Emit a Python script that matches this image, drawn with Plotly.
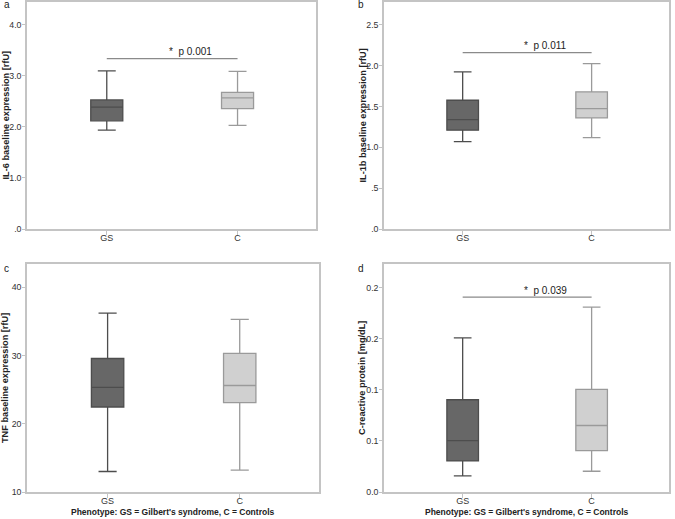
import plotly.graph_objects as go

groups = ["GS", "C"]
# panel a: IL-6
a_low = [1.94, 2.03]; a_q1 = [2.12, 2.36]; a_med = [2.39, 2.57]; a_q3 = [2.53, 2.68]; a_up = [3.10, 3.09]
# panel b: IL-1b
b_low = [1.07, 1.12]; b_q1 = [1.21, 1.36]; b_med = [1.34, 1.475]; b_q3 = [1.577, 1.68]; b_up = [1.924, 2.026]
# panel c: TNF
c_low = [13.0, 13.2]; c_q1 = [22.45, 23.1]; c_med = [25.34, 25.6]; c_q3 = [29.56, 30.3]; c_up = [36.2, 35.3]
# panel d: CRP
d_low = [0.0157, 0.0203]; d_q1 = [0.0304, 0.0405]; d_med = [0.0503, 0.065]; d_q3 = [0.0902, 0.1003]; d_up = [0.1507, 0.1807]

a_ticks = [0, 1, 2, 3, 4]; a_labels = [".0", "1.0", "2.0", "3.0", "4.0"]
b_ticks = [0, 0.5, 1.0, 1.5, 2.0, 2.5]; b_labels = [".0", ".5", "1.0", "1.5", "2.0", "2.5"]
c_ticks = [10, 20, 30, 40]; c_labels = ["10", "20", "30", "40"]
d_ticks = [0, 0.05, 0.10, 0.15, 0.20]; d_labels = ["0.0", "0.1", "0.1", "0.2", "0.2"]

sig = {"a": ("* p 0.001", 3.34), "b": ("* p 0.011", 2.16), "d": ("* p 0.039", 0.1905)}

ytitles = {"a": "IL-6 baseline expression [rfU]", "b": "IL-1b baseline expression [rfU]",
           "c": "TNF baseline expression [rfU]", "d": "C-reactive protein [mg/dL]"}
xtitle = "Phenotype: GS = Gilbert's syndrome, C = Controls"

fills = ["#676767", "#d0d0d0"]
lines = ["#4d4d4d", "#9a9a9a"]
FONT = "Liberation Sans, Arial, sans-serif"

panels = [
    ("a", a_low, a_q1, a_med, a_q3, a_up, [0, 4.45], a_ticks, a_labels, [27, 316], [2, 229]),
    ("b", b_low, b_q1, b_med, b_q3, b_up, [0, 2.78], b_ticks, b_labels, [384, 669], [2, 229]),
    ("c", c_low, c_q1, c_med, c_q3, c_up, [10, 43.4], c_ticks, c_labels, [27, 319], [264, 492]),
    ("d", d_low, d_q1, d_med, d_q3, d_up, [0, 0.2229], d_ticks, d_labels, [384, 669], [264, 492]),
]

W, H = 675, 519
fig = go.Figure()
layout = {}
annotations = []
shapes = []
for i, (name, lo, q1, med, q3, up, yr, tv, tt, xpx, ypx) in enumerate(panels):
    k = "" if i == 0 else str(i + 1)
    xa, ya = "x" + k, "y" + k
    for j, g in enumerate(groups):
        fig.add_trace(go.Box(
            x=[j], lowerfence=[lo[j]], q1=[q1[j]], median=[med[j]], q3=[q3[j]], upperfence=[up[j]],
            fillcolor=fills[j], line=dict(color=lines[j], width=1.3), width=0.245,
            whiskerwidth=0.56, boxpoints=False, showlegend=False, hoverinfo="skip",
            xaxis=xa, yaxis=ya))
    xd = [xpx[0] / W, xpx[1] / W]
    yd = [1 - ypx[1] / H, 1 - ypx[0] / H]
    layout["xaxis" + k] = dict(
        domain=xd, range=[-0.61, 1.6], tickvals=[0, 1], ticktext=groups, showgrid=False,
        zeroline=False, showline=True, linecolor="#c4c4c4", linewidth=1.5, mirror=True,
        ticks="outside", ticklen=4, tickcolor="#c4c4c4", anchor=ya, automargin=False,
        ticklabelstandoff=-5,
        tickfont=dict(family=FONT, size=9, color="#333"))
    layout["yaxis" + k] = dict(
        domain=yd, range=yr, tickvals=tv, ticktext=tt, showgrid=False, zeroline=False,
        showline=True, linecolor="#c4c4c4", linewidth=1.5, mirror=True, ticks="outside",
        ticklen=3, tickcolor="#c4c4c4", anchor=xa, automargin=False,
        ticklabelstandoff=-1,
        tickfont=dict(family=FONT, size=8.8, color="#333"))
    # y-axis title
    annotations.append(dict(text="<b>" + ytitles[name] + "</b>", xref="paper", yref="paper",
                            x=(xpx[0] - 22) / W,
                            y=1 - (ypx[0] + ypx[1]) / 2 / H, textangle=-90,
                            xanchor="center", yanchor="middle", showarrow=False,
                            font=dict(family=FONT, size=9.2, color="#222")))
    if name in ("c", "d"):
        annotations.append(dict(text="<b>" + xtitle + "</b>", xref="paper", yref="paper",
                                x=(xpx[0] + xpx[1]) / 2 / W, y=1 - 512 / H,
                                xanchor="center", yanchor="middle", showarrow=False,
                                font=dict(family=FONT, size=8.5, color="#222")))
    annotations.append(dict(text=name, xref="paper", yref="paper",
                            x=(xpx[0] - 25) / W if name in ("a", "c") else (xpx[0] - 28) / W,
                            y=1 - (ypx[0] + 3) / H if name in ("a", "b") else 1 - (ypx[0] + 4) / H,
                            xanchor="left", yanchor="middle", showarrow=False,
                            font=dict(family=FONT, size=10, color="#222")))
    if name in sig:
        txt, yv = sig[name]
        shapes.append(dict(type="line", xref=xa, yref=ya, x0=0, x1=1, y0=yv, y1=yv,
                           line=dict(color="#8a8a8a", width=1.3)))
        annotations.append(dict(text=txt.replace("* ", "*  "), xref=xa, yref=ya, x=0.64, y=yv,
                                yshift=7, xanchor="center", yanchor="middle", showarrow=False,
                                font=dict(family=FONT, size=10, color="#222")))

fig.update_layout(**layout)
fig.update_layout(width=W, height=H, margin=dict(l=0, r=0, t=0, b=0, autoexpand=False),
                  paper_bgcolor="white", plot_bgcolor="white",
                  annotations=annotations, shapes=shapes)
fig.write_html("out.html", config={"displayModeBar": False},
               post_script="document.body.style.margin='0px';document.body.style.overflow='hidden';")
